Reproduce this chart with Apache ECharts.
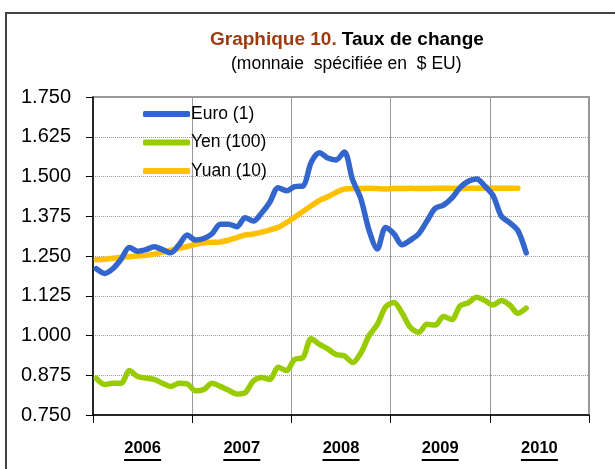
<!DOCTYPE html>
<html>
<head>
<meta charset="utf-8">
<script src="https://cdn.jsdelivr.net/npm/echarts@6/dist/echarts.min.js"></script>
<style>
  html, body { margin: 0; padding: 0; background: #fff; }
  #frame { position: absolute; left: 5px; top: 12px; width: 700px; height: 600px;
           border-top: 2px solid #444; border-left: 2px solid #444; }
  #chart { position: absolute; left: 0; top: 0; width: 615px; height: 469px; }
</style>
</head>
<body>
<div id="frame"></div>
<div id="chart"></div>
<script>
// données mensuelles, janv. 2006 -> mai 2010
const years = ['2006', '2007', '2008', '2009', '2010']
const monthOffset = 0.4

const euro = [1.210, 1.195, 1.210, 1.240, 1.277, 1.265, 1.270, 1.279, 1.270, 1.260, 1.285, 1.316,
              1.300, 1.305, 1.320, 1.350, 1.350, 1.342, 1.370, 1.360, 1.385, 1.420, 1.465, 1.455,
              1.468, 1.470, 1.545, 1.575, 1.558, 1.552, 1.577, 1.490, 1.430, 1.330, 1.272, 1.340,
              1.320, 1.285, 1.300, 1.320, 1.360, 1.400, 1.410, 1.432, 1.465, 1.485, 1.492, 1.470,
              1.440, 1.375, 1.355, 1.330, 1.260]

const yen = [0.865, 0.846, 0.850, 0.850, 0.890, 0.871, 0.866, 0.862, 0.850, 0.840, 0.850, 0.848,
             0.826, 0.830, 0.850, 0.840, 0.828, 0.816, 0.820, 0.857, 0.868, 0.862, 0.900, 0.890,
             0.925, 0.931, 0.990, 0.972, 0.958, 0.940, 0.936, 0.915, 0.945, 1.000, 1.035, 1.090,
             1.104, 1.070, 1.025, 1.010, 1.035, 1.033, 1.060, 1.050, 1.093, 1.103, 1.120, 1.110,
             1.096, 1.110, 1.096, 1.070, 1.086]

const yuan = [1.238, 1.240, 1.243, 1.246, 1.248, 1.250, 1.252, 1.256, 1.262, 1.268, 1.274, 1.280,
              1.287, 1.291, 1.293, 1.294, 1.300, 1.308, 1.316, 1.319, 1.325, 1.332, 1.340, 1.355,
              1.372, 1.390, 1.408, 1.425, 1.436, 1.450, 1.461, 1.462, 1.462, 1.463, 1.462, 1.461,
              1.462, 1.462, 1.463, 1.462, 1.462, 1.463, 1.463, 1.463, 1.462, 1.463, 1.463, 1.463,
              1.463, 1.463, 1.463, 1.463]

const font = '"Liberation Sans", Arial, sans-serif'

function toPoints(arr) {
    return arr.map((v, i) => [i + monthOffset, v])
}

let chart = echarts.init(document.getElementById('chart'), null, {renderer: 'canvas'})

chart.setOption({
    animation: false,
    title: [{
        text: '{a|Graphique 10.} {b|Taux de change}',
        left: 205, top: 25,
        textStyle: {
            rich: {
                a: {fontFamily: font, fontSize: 19, fontWeight: 'bold', color: '#9c3b10'},
                b: {fontFamily: font, fontSize: 19, fontWeight: 'bold', color: '#000'}
            }
        }
    }, {
        text: '(monnaie  spécifiée en  $ EU)',
        left: 226, top: 50,
        textStyle: {fontFamily: font, fontSize: 17.5, fontWeight: 'normal', color: '#000'}
    }],
    legend: {
        orient: 'vertical',
        left: 138, top: 99,
        itemWidth: 47, itemHeight: 6, itemGap: 8.5,
        icon: 'roundRect',
        textStyle: {fontFamily: font, fontSize: 17.5, color: '#000', lineHeight: 20, padding: [0, 0, 0, -4]},
        data: ['Euro (1)', 'Yen (100)', 'Yuan (10)']
    },
    grid: {
        left: 93, right: 26, top: 97, bottom: 54,
        show: true, borderColor: '#999', borderWidth: 2
    },
    xAxis: [{
        type: 'value', min: 0, max: 60, interval: 12,
        axisLine: {show: true, onZero: false, lineStyle: {color: '#000', width: 1.5}},
        axisTick: {show: true, length: 8, lineStyle: {color: '#000'}},
        axisLabel: {show: false},
        splitLine: {show: true, lineStyle: {color: '#999', width: 1}}
    }, {
        type: 'category', data: years, boundaryGap: true, position: 'bottom',
        axisLine: {show: false}, axisTick: {show: false}, splitLine: {show: false},
        axisLabel: {
            margin: 24,
            formatter: v => '{y|' + v + '}\n{u|}',
            rich: {
                y: {fontFamily: font, fontSize: 16.5, fontWeight: 'bold', color: '#000', lineHeight: 19},
                u: {width: 37, height: 2, lineHeight: 4, backgroundColor: '#000'}
            }
        }
    }],
    yAxis: {
        type: 'value', min: 0.75, max: 1.75, interval: 0.125,
        axisLine: {show: true, lineStyle: {color: '#000', width: 1.5}},
        axisTick: {show: true, inside: false, length: 7, lineStyle: {color: '#000'}},
        axisLabel: {
            margin: 22, color: '#000', fontFamily: font, fontSize: 20,
            formatter: v => v.toFixed(3)
        },
        splitLine: {show: true, lineStyle: {color: '#999', width: 1, type: 'dotted'}}
    },
    series: [{
        name: 'Euro (1)', type: 'line', data: toPoints(euro), z: 5,
        symbol: 'none', smooth: 0.3, color: '#3366cc',
        lineStyle: {width: 5.5, color: '#3366cc', cap: 'round'}
    }, {
        name: 'Yen (100)', type: 'line', data: toPoints(yen), z: 3,
        symbol: 'none', smooth: 0.3, color: '#99cc00',
        lineStyle: {width: 5.5, color: '#99cc00', cap: 'round'}
    }, {
        name: 'Yuan (10)', type: 'line', data: toPoints(yuan), z: 4,
        symbol: 'none', smooth: 0.3, color: '#ffc000',
        lineStyle: {width: 5.5, color: '#ffc000', cap: 'round'}
    }]
})
</script>
</body>
</html>
